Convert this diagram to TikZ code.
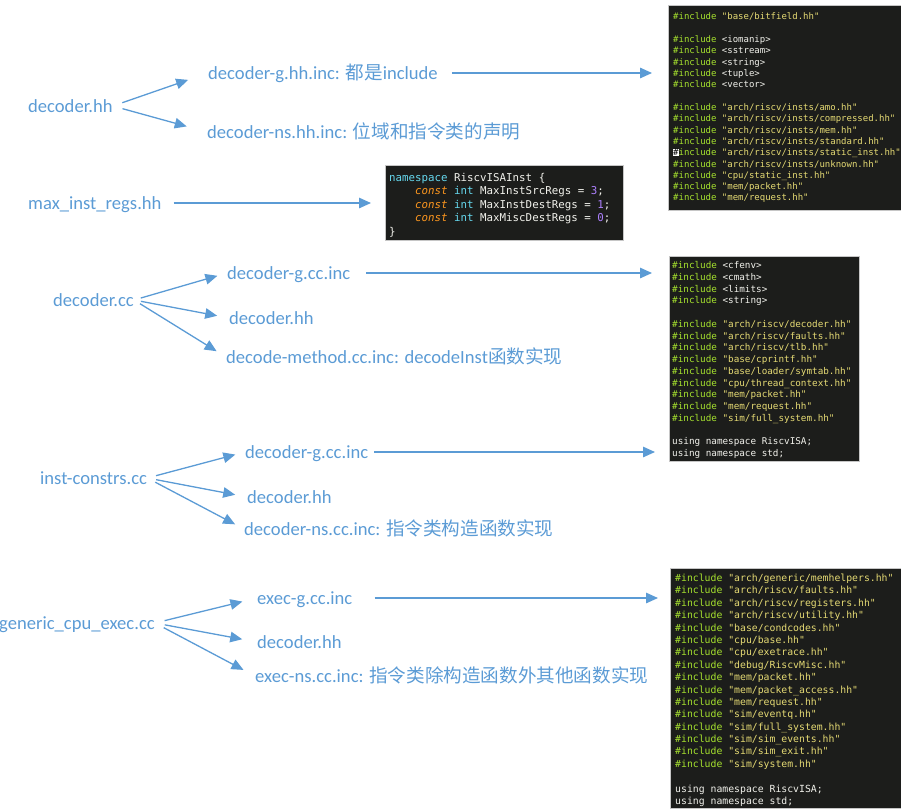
\documentclass[tikz,border=0pt]{standalone}
\usepackage{fontspec}
\setmainfont{Carlito}
\setmonofont{DejaVu Sans Mono}
\newfontfamily\cjk{Noto Sans CJK SC}
\usepackage{xcolor}
\usetikzlibrary{arrows.meta,positioning}
\definecolor{lblue}{HTML}{5B9BD5}
\definecolor{codebgc}{HTML}{1C1D1B}
\definecolor{incg}{HTML}{A6E22E}
\definecolor{strc}{HTML}{E6DB74}
\definecolor{codew}{HTML}{F2F2EC}
\definecolor{cyn}{HTML}{66D9EF}
\definecolor{org}{HTML}{FD971F}
\definecolor{pur}{HTML}{AE81FF}
\newcommand\incq[1]{\textcolor{incg}{\#include} \textcolor{strc}{"#1"}}
\newcommand\inca[1]{\textcolor{incg}{\#include} \textcolor{codew}{<#1>}}
\newcommand\inccur[1]{{\setlength\fboxsep{0pt}\colorbox{white}{\textcolor{black}{\#}}}\textcolor{incg}{include} \textcolor{strc}{"#1"}}
\tikzset{
  lbl/.style={anchor=west,inner sep=0pt,text=lblue,text height=15pt,text depth=2pt,font=\fontsize{18.6}{21}\selectfont},
  ar/.style={-{Triangle[length=12pt,width=10.5pt]},lblue,line width=1.3pt},
  codebox/.style={anchor=north west,fill=codebgc,draw=gray!45,line width=0.6pt,inner sep=0pt},
  codeln/.style={anchor=base west,inner sep=0pt,text=codew}
}
\begin{document}
\begin{tikzpicture}[x=1pt,y=-1pt]
\useasboundingbox (0,0) rectangle (901,808);

% code screenshots
\node[codebox,minimum width=233pt,minimum height=205pt] (incA) at (668,5) {};
\node[codebox,minimum width=238pt,minimum height=75pt] (regs) at (385,165) {};
\node[codebox,minimum width=190pt,minimum height=205pt] (incB) at (669,256) {};
\node[codebox,minimum width=231pt,minimum height=240pt] (incC) at (670,568) {};

\foreach \t [count=\i] in {{\incq{base/bitfield.hh}},{},{\inca{iomanip}},{\inca{sstream}},{\inca{string}},{\inca{tuple}},{\inca{vector}},{},
  {\incq{arch/riscv/insts/amo.hh}},{\incq{arch/riscv/insts/compressed.hh}},{\incq{arch/riscv/insts/mem.hh}},{\incq{arch/riscv/insts/standard.hh}},
  {\inccur{arch/riscv/insts/static\_inst.hh}},{\incq{arch/riscv/insts/unknown.hh}},{\incq{cpu/static\_inst.hh}},{\incq{mem/packet.hh}},{\incq{mem/request.hh}}}
  \node[codeln,font=\fontsize{9}{11}\ttfamily] (la\i) at (673,{20+11.31*(\i-1)}) {\t};

\foreach \t [count=\i] in {{\textcolor{cyn}{namespace} RiscvISAInst \{},
  {\phantom{xxxx}\textcolor{org}{\itshape const} \textcolor{cyn}{int} MaxInstSrcRegs = \textcolor{pur}{3};},
  {\phantom{xxxx}\textcolor{org}{\itshape const} \textcolor{cyn}{int} MaxInstDestRegs = \textcolor{pur}{1};},
  {\phantom{xxxx}\textcolor{org}{\itshape const} \textcolor{cyn}{int} MaxMiscDestRegs = \textcolor{pur}{0};},
  {\}}}
  \node[codeln,font=\fontsize{10.8}{13}\ttfamily] (lr\i) at (389,{181+13.5*(\i-1)}) {\t};

\foreach \t [count=\i] in {{\inca{cfenv}},{\inca{cmath}},{\inca{limits}},{\inca{string}},{},
  {\incq{arch/riscv/decoder.hh}},{\incq{arch/riscv/faults.hh}},{\incq{arch/riscv/tlb.hh}},{\incq{base/cprintf.hh}},
  {\incq{base/loader/symtab.hh}},{\incq{cpu/thread\_context.hh}},{\incq{mem/packet.hh}},{\incq{mem/request.hh}},
  {\incq{sim/full\_system.hh}},{},{using namespace RiscvISA;},{using namespace std;}}
  \node[codeln,font=\fontsize{9.3}{11}\ttfamily] (lb\i) at (672,{268.5+11.75*(\i-1)}) {\t};

\foreach \t [count=\i] in {{\incq{arch/generic/memhelpers.hh}},{\incq{arch/riscv/faults.hh}},{\incq{arch/riscv/registers.hh}},
  {\incq{arch/riscv/utility.hh}},{\incq{base/condcodes.hh}},{\incq{cpu/base.hh}},{\incq{cpu/exetrace.hh}},
  {\incq{debug/RiscvMisc.hh}},{\incq{mem/packet.hh}},{\incq{mem/packet\_access.hh}},{\incq{mem/request.hh}},
  {\incq{sim/eventq.hh}},{\incq{sim/full\_system.hh}},{\incq{sim/sim\_events.hh}},{\incq{sim/sim\_exit.hh}},
  {\incq{sim/system.hh}},{},{using namespace RiscvISA;},{using namespace std;}}
  \node[codeln,font=\fontsize{9.8}{12}\ttfamily] (lc\i) at (675,{581.5+12.39*(\i-1)}) {\t};

% decoder.hh
\node[lbl] (dh) at (28,106) {decoder.hh};
\node[lbl] (dhg) at (208,73) {decoder-g.hh.inc: {\cjk 都是}include};
\node[lbl] (dhns) at (207,132) {decoder-ns.hh.inc: {\cjk 位域和指令类的声明}};
\draw[ar,shorten <=10pt,shorten >=21pt] (dh.east) -- (dhg.west);
\draw[ar,shorten <=10pt,shorten >=21pt] (dh.east) -- (dhns.west);
\draw[ar,shorten <=14pt,shorten >=16pt] (dhg.east) -- (dhg.east -| incA.west);

% max_inst_regs.hh
\node[lbl] (mir) at (28,203) {max\_inst\_regs.hh};
\draw[ar,shorten <=12pt,shorten >=14pt] (mir.east) -- (mir.east -| regs.west);

% decoder.cc
\node[lbl] (dcc) at (53,300) {decoder.cc};
\node[lbl] (dccg) at (227,273) {decoder-g.cc.inc};
\node[lbl] (dcch) at (229,318) {decoder.hh};
\node[lbl] (dccm) at (226,357) {decode-method.cc.inc: decodeInst{\cjk 函数实现}};
\draw[ar,shorten <=7pt,shorten >=10pt] (dcc.east) -- (dccg.west);
\draw[ar,shorten <=7pt,shorten >=12pt] (dcc.east) -- (dcch.west);
\draw[ar,shorten <=7pt,shorten >=11pt] (dcc.east) -- (dccm.west);
\draw[ar,shorten <=16pt,shorten >=17pt] (dccg.east) -- (dccg.east -| incB.west);

% inst-constrs.cc
\node[lbl] (ic) at (40,478) {inst-constrs.cc};
\node[lbl] (icg) at (245,452) {decoder-g.cc.inc};
\node[lbl] (ich) at (247,497) {decoder.hh};
\node[lbl] (icns) at (244,529) {decoder-ns.cc.inc: {\cjk 指令类构造函数实现}};
\draw[ar,shorten <=9pt,shorten >=10pt] (ic.east) -- (icg.west);
\draw[ar,shorten <=9pt,shorten >=12pt] (ic.east) -- (ich.west);
\draw[ar,shorten <=9pt,shorten >=10pt] (ic.east) -- (icns.west);
\draw[ar,shorten <=6pt,shorten >=14pt] (icg.east) -- (icg.east -| incB.west);

% generic_cpu_exec.cc
\node[lbl] (gce) at (-1,623) {generic\_cpu\_exec.cc};
\node[lbl] (gceg) at (257,598) {exec-g.cc.inc};
\node[lbl] (gceh) at (257,642) {decoder.hh};
\node[lbl] (gcens) at (255,676) {exec-ns.cc.inc: {\cjk 指令类除构造函数外其他函数实现}};
\draw[ar,shorten <=10pt,shorten >=15pt] (gce.east) -- (gceg.west);
\draw[ar,shorten <=10pt,shorten >=15pt] (gce.east) -- (gceh.west);
\draw[ar,shorten <=10pt,shorten >=13pt] (gce.east) -- (gcens.west);
\draw[ar,shorten <=22pt,shorten >=12pt] (gceg.east) -- (gceg.east -| incC.west);
\end{tikzpicture}
\end{document}
